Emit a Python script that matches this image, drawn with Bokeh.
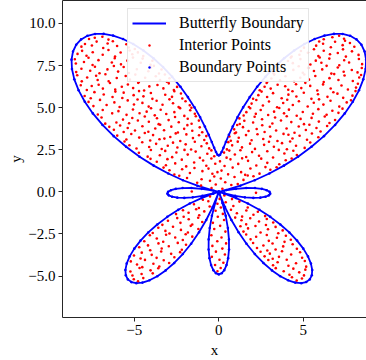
import numpy as np
from bokeh.plotting import figure
from bokeh.models import FixedTicker, LinearAxis, Legend, LegendItem
from bokeh.embed import file_html
from bokeh.resources import INLINE

# Outline of the butterfly, right half: (polar angle in degrees, radius).
# The left half is its mirror image about the y axis.
outline_right = [
    (-90, 4.896), (-88, 4.837), (-86, 4.661), (-84, 4.372), (-82, 3.974),
    (-80, 3.476), (-78, 2.887), (-76, 2.218), (-74, 1.483), (-72, 0.695),
    (-70.3, 0.0), (-70, 0.130), (-68, 0.978), (-66, 1.830), (-64, 2.673),
    (-62, 3.488), (-60, 4.262), (-58, 4.979), (-56, 5.625), (-54, 6.190),
    (-52, 6.662), (-50, 7.033), (-48, 7.296), (-46, 7.447), (-44, 7.483),
    (-42, 7.405), (-40, 7.216), (-38, 6.919), (-36, 6.521), (-34, 6.031),
    (-32, 5.460), (-30, 4.820), (-28, 4.124), (-26, 3.387), (-24, 2.625),
    (-22, 1.853), (-20, 1.089), (-18, 0.348), (-17.0, 0.0), (-16, 0.353),
    (-14, 1.000), (-12, 1.578), (-10, 2.074), (-8, 2.478), (-6, 2.779),
    (-4, 2.970), (-2, 3.045), (0, 3.000), (2, 2.835), (4, 2.551),
    (6, 2.151), (8, 1.640), (10, 1.027), (12, 0.321), (12.8, 0.0),
    (14, 0.466), (16, 1.322), (18, 2.232), (20, 3.182), (22, 4.154),
    (24, 5.133), (26, 6.102), (28, 7.045), (30, 7.946), (32, 8.790),
    (34, 9.564), (36, 10.254), (38, 10.850), (40, 11.344), (42, 11.727),
    (44, 11.995), (46, 12.145), (48, 12.177), (50, 12.092), (52, 11.895),
    (54, 11.591), (56, 11.190), (58, 10.699), (60, 10.133), (62, 9.502),
    (64, 8.822), (66, 8.107), (68, 7.373), (70, 6.636), (72, 5.911),
    (74, 5.215), (76, 4.561), (78, 3.964), (80, 3.436), (82, 2.988),
    (84, 2.629), (86, 2.368), (88, 2.208), (90, 2.155),
]

# Points scattered inside the outline, grouped by wing.
upper_right = [
    (0.21, 0.18), (0.74, 0.41), (1.12, 0.46),
    (0.38, 0.57), (1.46, 0.71), (0.93, 0.88), (2.05, 0.93), (0.12, 0.79), (1.71, 0.97),
    (0.55, 1.04), (2.41, 1.08), (1.32, 1.17), (3.05, 1.31), (0.16, 1.26), (1.87, 1.39), (0.82, 1.44), (2.76, 1.47), (1.56, 1.01), (3.42, 1.46),
    (0.34, 1.53), (2.22, 1.56), (3.58, 1.64), (1.15, 1.66), (2.87, 1.72), (0.07, 1.81), (1.73, 1.84), (3.96, 1.88), (0.69, 1.93), (2.51, 1.97), (1.38, 1.99), (4.31, 1.98),
    (0.46, 2.03), (1.62, 2.07), (3.21, 2.04), (4.62, 2.19), (2.38, 2.14), (0.95, 2.22), (3.88, 2.28), (0.31, 2.33), (1.97, 2.36), (2.87, 2.41), (4.41, 2.44), (1.28, 2.47), (3.55, 2.49), (0.62, 2.45),
    (0.48, 2.52), (2.14, 2.55), (4.03, 2.53), (5.08, 2.61), (1.37, 2.64), (3.26, 2.68), (0.79, 2.76), (2.68, 2.79), (4.57, 2.74), (1.85, 2.86), (3.74, 2.89), (5.41, 2.93), (0.56, 2.95), (1.12, 2.98), (2.97, 2.97), (4.22, 2.99),
    (0.71, 3.03), (1.94, 3.06), (3.47, 3.02), (5.22, 3.09), (2.63, 3.14), (4.36, 3.17), (1.18, 3.21), (5.89, 3.24), (0.63, 3.29), (3.05, 3.28), (4.78, 3.33), (1.61, 3.37), (2.29, 3.42), (3.83, 3.44), (5.51, 3.46), (0.95, 3.48), (4.12, 3.39),
    (1.02, 3.52), (2.71, 3.55), (4.48, 3.51), (6.02, 3.58), (1.76, 3.61), (3.39, 3.64), (5.15, 3.67), (0.91, 3.71), (2.24, 3.73), (4.01, 3.76), (5.78, 3.79), (1.43, 3.84), (3.02, 3.86), (4.73, 3.88), (6.41, 3.91), (2.57, 3.95), (1.09, 3.97), (5.36, 3.98),
    (1.24, 4.03), (3.17, 4.06), (5.04, 4.02), (6.55, 4.09), (2.03, 4.12), (4.29, 4.14), (5.92, 4.17), (1.51, 4.22), (3.68, 4.24), (6.88, 4.27), (2.56, 4.31), (4.84, 4.33), (1.22, 4.36), (3.33, 4.41), (5.49, 4.39), (2.12, 4.46), (6.27, 4.47), (4.02, 4.49),
    (1.47, 4.53), (2.92, 4.56), (4.61, 4.52), (6.38, 4.58), (2.19, 4.63), (3.86, 4.66), (5.57, 4.64), (7.08, 4.69), (1.63, 4.73), (3.27, 4.76), (4.97, 4.74), (6.72, 4.81), (2.48, 4.86), (4.15, 4.88), (5.89, 4.91), (1.86, 4.96), (3.58, 4.98), (7.32, 4.94),
    (1.78, 5.04), (3.45, 5.02), (5.26, 5.07), (7.13, 5.06), (2.61, 5.13), (4.38, 5.16), (6.19, 5.18), (1.94, 5.24), (3.81, 5.27), (5.62, 5.29), (7.57, 5.31), (2.97, 5.36), (4.74, 5.38), (6.61, 5.41), (2.22, 5.45), (4.05, 5.47), (5.93, 5.49), (7.82, 5.44),
    (2.03, 5.53), (3.72, 5.56), (5.48, 5.52), (7.36, 5.58), (2.86, 5.63), (4.59, 5.66), (6.43, 5.64), (7.91, 5.71), (2.34, 5.74), (4.12, 5.77), (5.87, 5.79), (7.02, 5.83), (3.21, 5.86), (5.03, 5.88), (6.78, 5.91), (2.53, 5.95), (4.36, 5.97), (8.09, 5.98),
    (2.42, 6.03), (4.11, 6.06), (5.83, 6.02), (7.64, 6.08), (3.07, 6.13), (4.88, 6.16), (6.62, 6.14), (8.12, 6.19), (2.71, 6.24), (3.93, 6.27), (5.41, 6.29), (7.26, 6.31), (3.48, 6.36), (4.57, 6.39), (6.17, 6.38), (2.83, 6.46), (5.12, 6.47), (8.23, 6.42),
    (2.87, 6.53), (4.46, 6.56), (6.21, 6.52), (7.93, 6.58), (3.62, 6.63), (5.34, 6.66), (7.08, 6.64), (3.11, 6.73), (4.82, 6.77), (6.55, 6.75), (8.31, 6.79), (3.94, 6.86), (5.71, 6.88), (7.44, 6.91), (3.28, 6.96), (5.06, 6.97), (6.83, 6.99), (8.42, 6.94),
    (3.24, 7.04), (4.97, 7.07), (6.66, 7.02), (8.21, 7.09), (3.87, 7.14), (5.63, 7.17), (7.39, 7.13), (4.41, 7.24), (6.12, 7.27), (7.87, 7.23), (3.52, 7.33), (5.28, 7.36), (7.04, 7.38), (8.46, 7.35), (4.73, 7.46), (6.38, 7.48),
    (3.76, 7.53), (5.42, 7.56), (7.13, 7.52), (8.48, 7.58), (4.38, 7.64), (6.07, 7.66), (7.71, 7.68), (4.09, 7.77), (5.74, 7.79), (7.42, 7.81), (4.83, 7.88), (6.54, 7.91), (8.29, 7.89), (4.26, 7.97), (5.97, 7.98),
    (4.31, 8.04), (5.89, 8.06), (7.52, 8.03), (4.77, 8.14), (6.58, 8.17), (8.27, 8.13), (5.27, 8.26), (7.04, 8.24), (4.86, 8.36), (6.21, 8.38), (7.88, 8.34), (5.63, 8.47), (7.35, 8.46),
    (5.04, 8.56), (6.63, 8.58), (8.02, 8.61), (5.76, 8.68), (7.33, 8.71), (6.17, 8.79), (7.76, 8.84), (5.94, 8.93), (6.88, 8.91), (7.47, 8.97),
    (6.21, 9.06), (7.41, 9.09), (6.72, 9.18), (7.12, 9.27),
]

upper_left = [
    (-0.43, 0.22), (-1.05, 0.38), (-0.18, 0.44),
    (-1.28, 0.54), (-0.52, 0.66), (-1.88, 0.82), (-0.27, 0.91), (-2.34, 0.96), (-1.02, 0.75),
    (-2.63, 1.03), (-0.38, 1.07), (-1.71, 1.12), (-0.97, 1.23), (-2.92, 1.28), (-2.17, 1.34), (-0.61, 1.38), (-1.44, 1.42), (-3.27, 1.44), (-0.08, 1.17),
    (-1.93, 1.51), (-0.74, 1.55), (-3.13, 1.58), (-2.58, 1.69), (-0.21, 1.67), (-1.46, 1.74), (-3.67, 1.79), (-0.93, 1.86), (-2.19, 1.91), (-3.04, 1.94), (-0.44, 1.98), (-4.04, 1.96),
    (-1.12, 2.02), (-2.76, 2.06), (-4.21, 2.09), (-0.27, 2.11), (-3.49, 2.17), (-1.84, 2.21), (-0.68, 2.26), (-4.73, 2.32), (-2.51, 2.34), (-1.37, 2.39), (-3.17, 2.43), (-0.44, 2.46), (-4.02, 2.48), (-2.03, 2.49),
    (-1.64, 2.51), (-3.38, 2.54), (-0.57, 2.58), (-4.87, 2.57), (-2.45, 2.63), (-4.12, 2.66), (-1.03, 2.71), (-3.02, 2.74), (-5.29, 2.77), (-1.96, 2.82), (-3.71, 2.85), (-0.71, 2.88), (-2.71, 2.92), (-4.53, 2.94), (-1.42, 2.97), (-5.58, 2.99),
    (-2.28, 3.02), (-4.06, 3.05), (-0.86, 3.08), (-5.47, 3.11), (-3.22, 3.16), (-1.53, 3.19), (-4.71, 3.22), (-2.87, 3.26), (-0.74, 3.31), (-6.01, 3.34), (-3.89, 3.37), (-1.92, 3.41), (-5.18, 3.43), (-2.55, 3.47), (-4.38, 3.49), (-1.17, 3.36), (-3.51, 3.12),
    (-0.98, 3.54), (-2.42, 3.52), (-4.17, 3.57), (-5.63, 3.55), (-1.57, 3.63), (-3.24, 3.66), (-4.96, 3.64), (-6.21, 3.69), (-2.05, 3.74), (-3.76, 3.76), (-5.39, 3.79), (-1.13, 3.83), (-2.81, 3.87), (-4.52, 3.89), (-6.48, 3.86), (-1.86, 3.96), (-3.47, 3.98), (-5.84, 3.94),
    (-1.61, 4.04), (-3.56, 4.02), (-5.31, 4.07), (-6.72, 4.05), (-2.37, 4.13), (-4.14, 4.16), (-6.06, 4.12), (-1.18, 4.23), (-2.97, 4.26), (-4.79, 4.24), (-5.67, 4.29), (-1.84, 4.34), (-3.66, 4.37), (-5.12, 4.38), (-6.94, 4.41), (-2.59, 4.44), (-4.38, 4.47), (-1.36, 4.49),
    (-2.04, 4.51), (-3.79, 4.54), (-5.46, 4.57), (-7.16, 4.59), (-1.42, 4.64), (-3.11, 4.62), (-4.69, 4.67), (-6.31, 4.66), (-2.63, 4.73), (-4.27, 4.76), (-5.94, 4.79), (-1.69, 4.84), (-3.44, 4.87), (-5.08, 4.89), (-6.87, 4.86), (-2.29, 4.97), (-4.01, 4.96), (-1.62, 4.99),
    (-2.38, 5.03), (-4.15, 5.06), (-5.87, 5.04), (-7.42, 5.09), (-1.72, 5.14), (-3.33, 5.17), (-5.02, 5.19), (-6.64, 5.16), (-2.71, 5.26), (-4.52, 5.28), (-6.18, 5.31), (-7.71, 5.34), (-1.97, 5.38), (-3.68, 5.41), (-5.39, 5.43), (-7.03, 5.46), (-2.92, 5.49), (-4.81, 5.48),
    (-2.16, 5.54), (-3.93, 5.52), (-5.71, 5.57), (-7.58, 5.56), (-2.77, 5.64), (-4.46, 5.67), (-6.29, 5.63), (-7.94, 5.69), (-3.17, 5.76), (-5.04, 5.74), (-6.81, 5.78), (-2.24, 5.84), (-4.02, 5.87), (-5.63, 5.89), (-7.36, 5.92), (-2.63, 5.97), (-4.72, 5.98), (-6.12, 5.95),
    (-2.66, 6.04), (-4.42, 6.02), (-6.13, 6.07), (-7.81, 6.05), (-3.28, 6.14), (-5.07, 6.16), (-6.86, 6.13), (-2.47, 6.23), (-4.11, 6.26), (-5.74, 6.24), (-7.52, 6.28), (-3.63, 6.34), (-5.38, 6.37), (-7.11, 6.36), (-8.17, 6.33), (-2.96, 6.44), (-4.77, 6.47), (-6.44, 6.46),
    (-3.07, 6.54), (-4.73, 6.52), (-6.52, 6.57), (-8.11, 6.56), (-3.48, 6.63), (-5.26, 6.66), (-7.17, 6.64), (-2.92, 6.74), (-4.36, 6.77), (-6.04, 6.76), (-7.79, 6.79), (-3.73, 6.86), (-5.51, 6.88), (-7.26, 6.89), (-3.19, 6.97), (-4.94, 6.96), (-6.71, 6.98), (-8.38, 6.92),
    (-3.54, 7.03), (-5.32, 7.06), (-7.06, 7.04), (-8.44, 7.11), (-4.17, 7.16), (-5.96, 7.14), (-7.61, 7.19), (-3.39, 7.26), (-4.85, 7.28), (-6.59, 7.27), (-8.13, 7.31), (-4.02, 7.38), (-5.63, 7.41), (-7.33, 7.43), (-3.84, 7.48), (-6.21, 7.47),
    (-4.04, 7.54), (-5.79, 7.57), (-7.47, 7.53), (-8.46, 7.62), (-4.62, 7.66), (-6.33, 7.68), (-7.98, 7.71), (-3.93, 7.78), (-5.41, 7.79), (-7.12, 7.82), (-4.51, 7.91), (-6.16, 7.93), (-7.71, 7.96), (-8.52, 7.87), (-5.08, 7.97),
    (-4.47, 8.06), (-6.14, 8.03), (-7.83, 8.08), (-5.12, 8.17), (-6.87, 8.14), (-8.36, 8.19), (-4.79, 8.28), (-5.81, 8.27), (-7.46, 8.29), (-5.28, 8.39), (-6.53, 8.42), (-8.09, 8.37), (-4.97, 8.48),
    (-5.33, 8.57), (-6.84, 8.54), (-8.13, 8.62), (-6.02, 8.66), (-7.51, 8.69), (-5.47, 8.76), (-6.58, 8.81), (-7.92, 8.78), (-6.27, 8.94), (-7.23, 8.92),
    (-6.53, 9.04), (-7.68, 9.07), (-6.89, 9.21), (-7.34, 9.15),
]

lower_right = [
    (0.33, -0.21), (0.78, -0.43),
    (0.41, -0.62), (1.22, -0.58), (0.86, -0.84), (1.71, -0.93),
    (0.72, -1.06), (1.63, -1.11), (2.31, -1.18), (1.07, -1.27), (2.05, -1.36), (2.74, -1.44), (1.38, -1.47),
    (0.97, -1.53), (1.86, -1.57), (2.84, -1.61), (1.34, -1.69), (2.38, -1.76), (3.22, -1.82), (1.62, -1.93), (2.79, -1.97),
    (1.28, -2.04), (2.17, -2.03), (3.36, -2.08), (1.73, -2.17), (2.91, -2.22), (3.78, -2.29), (1.46, -2.36), (2.47, -2.41), (3.52, -2.46),
    (1.62, -2.53), (2.84, -2.56), (3.97, -2.61), (2.21, -2.67), (3.44, -2.73), (1.88, -2.82), (4.26, -2.84), (2.96, -2.91), (3.89, -2.97),
    (2.03, -3.04), (3.18, -3.07), (4.37, -3.11), (2.64, -3.19), (3.81, -3.24), (2.26, -3.33), (4.62, -3.38), (3.36, -3.42), (2.87, -3.48),
    (2.47, -3.56), (3.74, -3.53), (4.81, -3.59), (3.02, -3.67), (4.28, -3.72), (2.71, -3.83), (3.56, -3.86), (4.93, -3.91), (3.19, -3.97),
    (2.93, -4.05), (4.02, -4.03), (5.09, -4.11), (3.48, -4.18), (4.57, -4.24), (3.21, -4.36), (4.12, -4.39), (5.17, -4.44),
    (3.37, -4.53), (4.41, -4.56), (5.12, -4.62), (3.84, -4.71), (4.76, -4.78), (4.18, -4.92), (5.04, -4.96),
    (4.33, -5.07), (4.92, -5.14), (4.61, -5.27),
]

lower_left = [
    (-0.52, -0.28), (-0.94, -0.47),
    (-0.62, -0.56), (-1.47, -0.74), (-0.54, -0.87), (-1.18, -0.96),
    (-1.34, -1.03), (-2.12, -1.09), (-0.86, -1.16), (-1.79, -1.24), (-2.53, -1.32), (-1.16, -1.39), (-2.08, -1.48),
    (-1.22, -1.54), (-2.46, -1.56), (-1.78, -1.63), (-3.01, -1.72), (-0.98, -1.79), (-2.27, -1.84), (-1.57, -1.94), (-3.34, -1.96),
    (-1.66, -2.02), (-2.71, -2.07), (-3.58, -2.13), (-1.21, -2.21), (-2.24, -2.26), (-3.16, -2.32), (-1.83, -2.41), (-2.92, -2.47), (-3.91, -2.44),
    (-1.96, -2.52), (-3.12, -2.55), (-4.08, -2.58), (-1.57, -2.66), (-2.58, -2.71), (-3.67, -2.77), (-2.13, -2.86), (-4.41, -2.93), (-3.29, -2.96),
    (-2.43, -3.03), (-3.57, -3.06), (-1.94, -3.14), (-4.19, -3.18), (-2.96, -3.23), (-4.71, -3.29), (-3.38, -3.36), (-2.19, -3.44), (-4.06, -3.47),
    (-2.29, -3.58), (-3.41, -3.54), (-4.56, -3.61), (-2.82, -3.68), (-3.97, -3.74), (-5.02, -3.78), (-2.63, -3.88), (-3.68, -3.92), (-4.63, -3.96),
    (-3.26, -4.06), (-4.37, -4.04), (-5.21, -4.13), (-2.94, -4.22), (-3.87, -4.27), (-4.84, -4.31), (-3.52, -4.43), (-4.53, -4.47),
    (-3.58, -4.54), (-4.69, -4.52), (-4.04, -4.66), (-5.23, -4.73), (-3.91, -4.84), (-4.57, -4.88), (-5.11, -4.97),
    (-4.47, -5.12), (-5.03, -5.19), (-4.78, -5.31),
]

bottom_loop = [
    (0.05, -0.42), (-0.08, -0.71), (0.12, -0.93), (-0.19, -1.12), (0.24, -1.31),
    (-0.06, -1.48), (0.31, -1.67), (-0.35, -1.84), (0.08, -2.02), (-0.27, -2.21),
    (0.39, -2.36), (-0.44, -2.58), (0.16, -2.71), (-0.09, -2.93), (0.43, -3.06),
    (-0.38, -3.21), (0.21, -3.37), (-0.17, -3.55), (0.36, -3.72), (-0.41, -3.86),
    (0.04, -4.03), (0.27, -4.21), (-0.22, -4.34), (0.11, -4.52), (-0.08, -4.71),
]

side_loops = [(2.2, -0.06), (-1.6, 0.02)]

x_ticks = [-5, 0, 5]
x_tick_labels = ["\u22125", "0", "5"]
y_ticks = [-5.0, -2.5, 0.0, 2.5, 5.0, 7.5, 10.0]
y_tick_labels = ["\u22125.0", "\u22122.5", "0.0", "2.5", "5.0", "7.5", "10.0"]

# Outline in cartesian coordinates: right half from the bottom up to the top,
# then the mirrored left half back down so the path closes on itself.
theta = np.radians([a for a, _ in outline_right])
radius = np.array([r for _, r in outline_right])
xr = radius * np.cos(theta)
yr = radius * np.sin(theta)
bx = np.concatenate([xr, -xr[::-1][1:]])
by = np.concatenate([yr, yr[::-1][1:]])

interior = upper_right + upper_left + lower_right + lower_left + bottom_loop + side_loops
ix = [pt[0] for pt in interior]
iy = [pt[1] for pt in interior]

FONT = "Liberation Serif"
INK = "#262626"

p = figure(
    width=366, height=360,
    output_backend="svg", toolbar_location=None,
    x_range=(-9.25, 8.74), y_range=(-7.46, 11.36),
    min_border_left=62, min_border_right=0, min_border_top=0, min_border_bottom=41,
    x_axis_label="x", y_axis_label="y",
)
p.outline_line_color = None
p.grid.visible = False
p.background_fill_color = "white"
p.border_fill_color = "white"

boundary_line = p.line(bx, by, line_color="#0000ff", line_width=1.8)
interior_pts = p.scatter(ix, iy, marker="circle", size=2.6,
                         fill_color="#ff0000", line_color=None)
boundary_pts = p.scatter(bx, by, marker="circle", size=2.6,
                         fill_color="#0000ff", line_color=None)

p.xaxis.ticker = FixedTicker(ticks=x_ticks)
p.xaxis.major_label_overrides = dict(zip(x_ticks, x_tick_labels))
p.yaxis.ticker = FixedTicker(ticks=y_ticks)
p.yaxis.major_label_overrides = dict(zip(y_ticks, y_tick_labels))

for ax in p.axis:
    ax.axis_line_color = INK
    ax.axis_line_width = 1
    ax.major_tick_line_color = INK
    ax.major_tick_out = 4
    ax.major_tick_in = 0
    ax.minor_tick_out = 0
    ax.minor_tick_in = 0
    ax.major_label_text_font = FONT
    ax.major_label_text_font_size = "15px"
    ax.major_label_text_color = "black"
    ax.axis_label_text_font = FONT
    ax.axis_label_text_font_style = "normal"
    ax.axis_label_text_font_size = "15px"
    ax.axis_label_text_color = "black"
p.xaxis.major_label_standoff = 3
p.xaxis.axis_label_standoff = 4
p.yaxis.major_label_standoff = 3
p.yaxis.axis_label_standoff = 1

# plain line along the top edge of the frame
top_edge = LinearAxis(ticker=FixedTicker(ticks=[]), major_tick_out=0, minor_tick_out=0,
                      major_tick_in=0, minor_tick_in=0, major_label_standoff=0,
                      major_label_text_font_size="0px", axis_line_color=INK)
p.add_layout(top_edge, "above")

legend = Legend(
    items=[
        LegendItem(label="Butterfly Boundary", renderers=[boundary_line]),
        LegendItem(label="Interior Points", renderers=[interior_pts]),
        LegendItem(label="Boundary Points", renderers=[boundary_pts]),
    ],
    location=(65, 235),
    label_text_font=FONT, label_text_font_size="16px", label_text_color="black",
    glyph_width=34, glyph_height=6, label_height=20, spacing=2,
    padding=4, margin=0, label_standoff=13,
    border_line_color="#cccccc", border_line_width=1,
    background_fill_color="white", background_fill_alpha=0.9,
)
p.add_layout(legend)

open("out.html", "w").write(file_html(p, INLINE))
